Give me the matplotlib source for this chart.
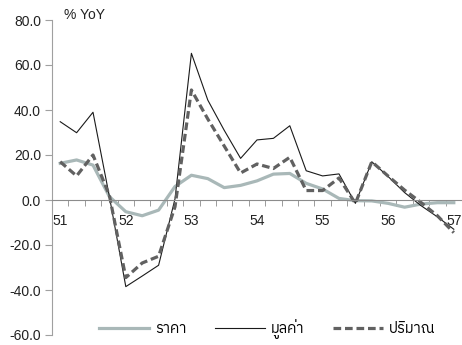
import numpy as np
import matplotlib
matplotlib.use("Agg")
import matplotlib.pyplot as plt
from matplotlib import font_manager
from matplotlib.ft2font import FT2Font

# quarterly % YoY, Q1/51 .. Q1/57
years = ['51', '52', '53', '54', '55', '56', '57']
price = [16.3, 17.8, 15.5, 1.5, -5.2, -7.0, -4.5, 6.0, 11.0, 9.5, 5.5, 6.5, 8.5,
         11.5, 11.8, 7.4, 4.9, 0.7, -0.3, -0.4, -1.5, -3.2, -1.8, -1.2, -1.2]
value = [34.8, 29.9, 39.0, 1.5, -38.5, -33.8, -29.0, 0.5, 65.2, 44.4, 31.0, 18.5, 26.7,
         27.4, 33.0, 13.0, 10.7, 11.6, -1.5, 17.0, 10.4, 3.3, -2.5, -7.5, -13.0]
volume = [17.0, 10.7, 20.0, 2.0, -34.5, -28.0, -25.0, -3.0, 48.9, 36.0, 24.0, 12.0, 16.0,
          14.0, 19.0, 4.2, 4.2, 9.8, -1.5, 17.0, 10.6, 4.4, -1.1, -7.0, -14.5]
series_names = ['ราคา', 'มูลค่า', 'ปริมาณ']


def find_thai_family():
    """Look for any installed font that has Thai glyphs."""
    found = []
    for f in font_manager.fontManager.ttflist:
        try:
            if 0x0E23 in FT2Font(f.fname).get_charmap():
                found.append(f.name)
        except Exception:
            continue
    found = sorted(set(found), key=lambda n: ('Thai' not in n, 'Sans' not in n, n))
    return found[0] if found else None


thai = find_thai_family()
families = ['Liberation Sans', 'DejaVu Sans']
if thai:
    families = ['Liberation Sans', thai, 'DejaVu Sans']
plt.rcParams['font.family'] = families

x = np.arange(len(price))

fig = plt.figure(figsize=(4.62, 3.45), dpi=100)
ax = fig.add_axes([52 / 462, 10 / 345, 410 / 462, 315 / 345])

ax.plot(x, price, color='#a9b8b8', lw=2.3, solid_joinstyle='round', label=series_names[0])
ax.plot(x, value, color='#1a1a1a', lw=0.8, label=series_names[1])
ax.plot(x, volume, color='#616161', lw=2.3, linestyle=(0, (2.4, 1.2)), label=series_names[2])

ax.set_xlim(-0.5, len(price) - 0.5)
ax.set_ylim(-60, 80)
ax.set_yticks(np.arange(-60, 81, 20))
ax.yaxis.set_major_formatter(matplotlib.ticker.FormatStrFormatter('%.1f'))

for s in ['top', 'right']:
    ax.spines[s].set_visible(False)
ax.spines['left'].set_color('#a0a0a0')
ax.spines['bottom'].set_position(('data', 0))
ax.spines['bottom'].set_color('#8c8c8c')

# year labels at Q1, tick marks between quarters
ax.set_xticks(np.arange(0, len(price), 4))
ax.set_xticklabels(years)
ax.set_xticks(np.arange(-0.5, len(price), 1), minor=True)
ax.tick_params(axis='x', which='major', length=0, pad=10, labelsize=10, colors='#222222')
ax.tick_params(axis='x', which='minor', length=4, color='#8c8c8c', direction='out')
ax.tick_params(axis='y', length=5, color='#a0a0a0', labelsize=10, labelcolor='#222222', pad=3)

fig.text(64 / 462, 1 - 15 / 345, '% YoY', fontsize=10, color='#222222', va='center')

ax.legend(loc='center', bbox_to_anchor=(0.525, 0.02), ncol=3, frameon=False,
          handlelength=3.4, columnspacing=2.0, handletextpad=0.4, fontsize=10.5)

fig.savefig('out.png', dpi=100)
